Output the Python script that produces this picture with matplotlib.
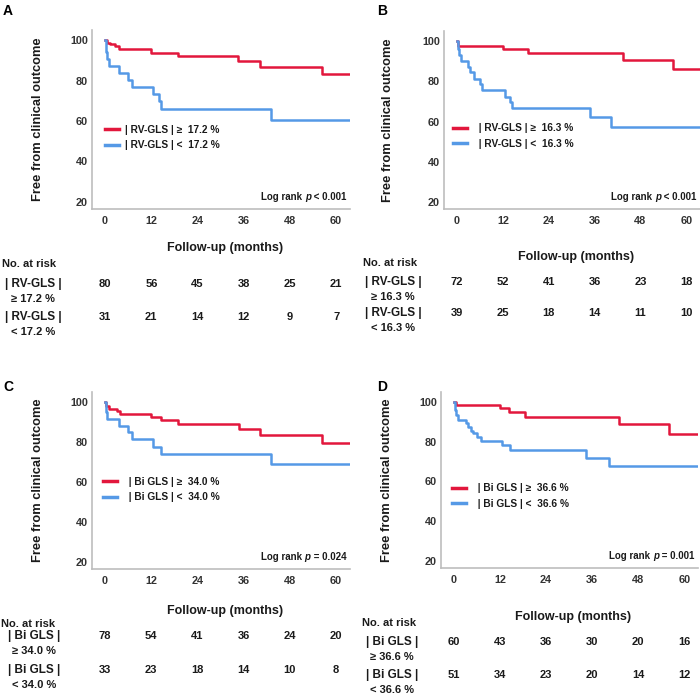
import matplotlib
matplotlib.use('Agg')
import matplotlib.pyplot as plt
import matplotlib.transforms as mtransforms
from matplotlib.offsetbox import TextArea, HPacker, AnchoredOffsetbox

plt.rcParams['font.family'] = ['Liberation Sans', 'DejaVu Sans']
plt.rcParams['font.weight'] = 'bold'

# Kaplan-Meier curves (time in months, % event free)
a_hi_t = [0, 0.4, 1.3, 2.6, 3.7, 11.9, 18.9, 34.4, 40.1, 56.3, 65]
a_hi_s = [100, 98.8, 98.2, 97.0, 95.4, 93.7, 92.1, 89.6, 86.8, 83.2, 83.2]
a_lo_t = [0, 0.2, 0.5, 1.0, 3.6, 6.0, 7.0, 12.5, 14.0, 14.5, 43.0, 65]
a_lo_s = [100, 94.0, 90.5, 87.2, 83.9, 80.4, 76.8, 73.3, 70.0, 65.8, 60.5, 60.5]

b_hi_t = [0, 0.3, 12.0, 18.5, 43.5, 56.5, 65]
b_hi_s = [100, 97.7, 96.0, 94.2, 90.7, 86.3, 86.3]
b_lo_t = [0, 0.2, 0.5, 1.0, 3.0, 3.5, 4.5, 6.0, 6.5, 12.5, 14.0, 14.5, 34.8, 40.3, 65]
b_lo_s = [100, 96.0, 93.0, 89.9, 87.3, 84.5, 81.3, 78.5, 75.7, 72.2, 69.5, 66.6, 62.0, 57.4, 57.4]

c_hi_t = [0, 0.3, 1.0, 3.2, 4.0, 12.0, 14.5, 19.0, 34.8, 40.3, 56.2, 65]
c_hi_s = [100, 98.2, 96.7, 95.4, 94.0, 92.5, 90.9, 88.9, 86.3, 83.6, 79.6, 79.6]
c_lo_t = [0, 0.2, 0.5, 3.6, 6.0, 7.0, 12.5, 14.5, 43.0, 65]
c_lo_s = [100, 95.0, 91.4, 87.9, 84.8, 81.3, 77.6, 74.0, 69.0, 69.0]

d_hi_t = [0, 0.4, 12.0, 14.3, 18.5, 43.0, 56.0, 65]
d_hi_s = [100, 98.7, 96.9, 95.0, 92.2, 88.7, 83.8, 83.8]
d_lo_t = [0, 0.2, 0.5, 1.0, 3.0, 3.7, 4.5, 5.0, 6.0, 7.0, 12.5, 14.5, 34.5, 40.5, 65]
d_lo_s = [100, 96.0, 93.5, 90.9, 89.5, 87.6, 85.5, 84.3, 82.5, 80.5, 78.1, 75.7, 71.9, 68.0, 68.0]

# numbers at risk
risk_times = [0, 12, 24, 36, 48, 60]
a_risk_hi = [80, 56, 45, 38, 25, 21]
a_risk_lo = [31, 21, 14, 12, 9, 7]
b_risk_hi = [72, 52, 41, 36, 23, 18]
b_risk_lo = [39, 25, 18, 14, 11, 10]
c_risk_hi = [78, 54, 41, 36, 24, 20]
c_risk_lo = [33, 23, 18, 14, 10, 8]
d_risk_hi = [60, 43, 36, 30, 20, 16]
d_risk_lo = [51, 34, 23, 20, 14, 12]

letters = ['A', 'B', 'C', 'D']
legend_hi = ['| RV-GLS | \u2265  17.2 %', '  | RV-GLS | \u2265  16.3 %',
             '  | Bi GLS | \u2265  34.0 %', '  | Bi GLS | \u2265  36.6 %']
legend_lo = ['| RV-GLS | <  17.2 %', '  | RV-GLS | <  16.3 %',
             '  | Bi GLS | <  34.0 %', '  | Bi GLS | <  36.6 %']
row_hi = [('| RV-GLS |', '\u2265 17.2 %'), ('| RV-GLS |', '\u2265 16.3 %'),
          ('| Bi GLS |', '\u2265 34.0 %'), ('| Bi GLS |', '\u2265 36.6 %')]
row_lo = [('| RV-GLS |', '< 17.2 %'), ('| RV-GLS |', '< 16.3 %'),
          ('| Bi GLS |', '< 34.0 %'), ('| Bi GLS |', '< 36.6 %')]
pvals = ['< 0.001', '< 0.001', '= 0.024', '= 0.001']

curves = [(a_hi_t, a_hi_s, a_lo_t, a_lo_s), (b_hi_t, b_hi_s, b_lo_t, b_lo_s),
          (c_hi_t, c_hi_s, c_lo_t, c_lo_s), (d_hi_t, d_hi_s, d_lo_t, d_lo_s)]
risks = [(a_risk_hi, a_risk_lo), (b_risk_hi, b_risk_lo),
         (c_risk_hi, c_risk_lo), (d_risk_hi, d_risk_lo)]

RED = '#e2173c'
BLUE = '#5599e6'
TXT = '#1a1a1a'
W, H = 700, 696

# layout in pixels: axes (left, top, right, bottom), letter pos, legend anchor,
# label positions, risk table positions
layout = [
    dict(ax=(92, 30, 350, 209), letter=(3, 11), leg=(0.05, 0.40), ylab=38,
         xlab=248, tbl_x=2, lab_x=33, nar=264, rows=(284, 317)),
    dict(ax=(444, 31, 700, 209), letter=(377, 11), leg=(0.035, 0.41), ylab=388,
         xlab=257, tbl_x=363, lab_x=393, nar=263, rows=(282, 313)),
    dict(ax=(92, 392, 350, 569), letter=(3, 387), leg=(0.043, 0.45), ylab=38,
         xlab=611, tbl_x=1, lab_x=34, nar=624, rows=(636, 670)),
    dict(ax=(441, 392, 698, 568), letter=(377, 387), leg=(0.043, 0.41), ylab=387,
         xlab=617, tbl_x=362, lab_x=392, nar=623, rows=(642, 675)),
]


def fx(px):
    return px / W


def fy(py):
    return 1 - py / H


fig = plt.figure(figsize=(W / 100, H / 100), dpi=100)

for i in range(4):
    lay = layout[i]
    l, t, r, b = lay['ax']
    ax = fig.add_axes([fx(l), fy(b), (r - l) / W, (b - t) / H])
    hi_t, hi_s, lo_t, lo_s = curves[i]
    ax.step(hi_t, hi_s, where='post', color=RED, lw=1.8, label=legend_hi[i])
    ax.step(lo_t, lo_s, where='post', color=BLUE, lw=1.8, label=legend_lo[i])
    ax.set_xlim(-3.4, 63.6)
    ax.set_ylim(16.5, 105)
    ax.set_xticks([0, 12, 24, 36, 48, 60])
    ax.set_yticks([20, 40, 60, 80, 100])
    ax.tick_params(length=0, labelsize=7.8, labelcolor='#333333')
    ax.tick_params(axis='y', pad=3)
    ax.tick_params(axis='x', pad=5)
    for lab in ax.get_xticklabels() + ax.get_yticklabels():
        lab.set_fontweight('bold')
    for s in ['top', 'right']:
        ax.spines[s].set_visible(False)
    for s in ['left', 'bottom']:
        ax.spines[s].set_color('#bdbdbd')
        ax.spines[s].set_linewidth(1.2)

    leg = ax.legend(loc='center left', bbox_to_anchor=lay['leg'], frameon=False,
                    fontsize=7.3, handlelength=1.4, handletextpad=0.6,
                    labelspacing=0.55, borderpad=0, borderaxespad=0)
    for line in leg.get_lines():
        line.set_linewidth(2.5)
    for txt in leg.get_texts():
        txt.set_color(TXT)

    # log rank annotation with italic p
    parts = [TextArea('Log rank ', textprops=dict(size=7, weight='bold', color=TXT)),
             TextArea('p', textprops=dict(size=7, weight='bold', style='italic', color=TXT)),
             TextArea(' ' + pvals[i], textprops=dict(size=7, weight='bold', color=TXT))]
    box = HPacker(children=parts, align='baseline', pad=0, sep=0)
    anch = AnchoredOffsetbox(loc='lower right', child=box, frameon=False,
                             bbox_to_anchor=(0.985, 0.04), bbox_transform=ax.transAxes,
                             borderpad=0, pad=0)
    ax.add_artist(anch)

    fig.text(fx(lay['letter'][0]), fy(lay['letter'][1]), letters[i], fontsize=10,
             fontweight='bold', ha='left', va='center', color='black')
    fig.text(fx(lay['ylab']), fy((t + b) / 2), 'Free from clinical outcome',
             rotation=90, fontsize=9.3, fontweight='bold', ha='center', va='center',
             color=TXT)
    fig.text(fx((l + r) / 2 + 4), fy(lay['xlab']), 'Follow-up (months)', fontsize=9,
             fontweight='bold', ha='center', va='center', color=TXT)

    # number at risk table
    fig.text(fx(lay['tbl_x']), fy(lay['nar']), 'No. at risk', fontsize=8,
             fontweight='bold', ha='left', va='center', color=TXT)
    trans = mtransforms.blended_transform_factory(ax.transData, fig.transFigure)
    for row_y, labels, counts in zip(lay['rows'], [row_hi[i], row_lo[i]], risks[i]):
        fig.text(fx(lay['lab_x']), fy(row_y), labels[0], fontsize=8.5,
                 fontweight='bold', ha='center', va='center', color=TXT)
        fig.text(fx(lay['lab_x']), fy(row_y + 15), labels[1], fontsize=8,
                 fontweight='bold', ha='center', va='center', color=TXT)
        for tm, n in zip(risk_times, counts):
            fig.text(tm, fy(row_y), str(n), transform=trans, fontsize=8,
                     fontweight='bold', ha='center', va='center', color=TXT)

fig.savefig('out.png', dpi=100)
